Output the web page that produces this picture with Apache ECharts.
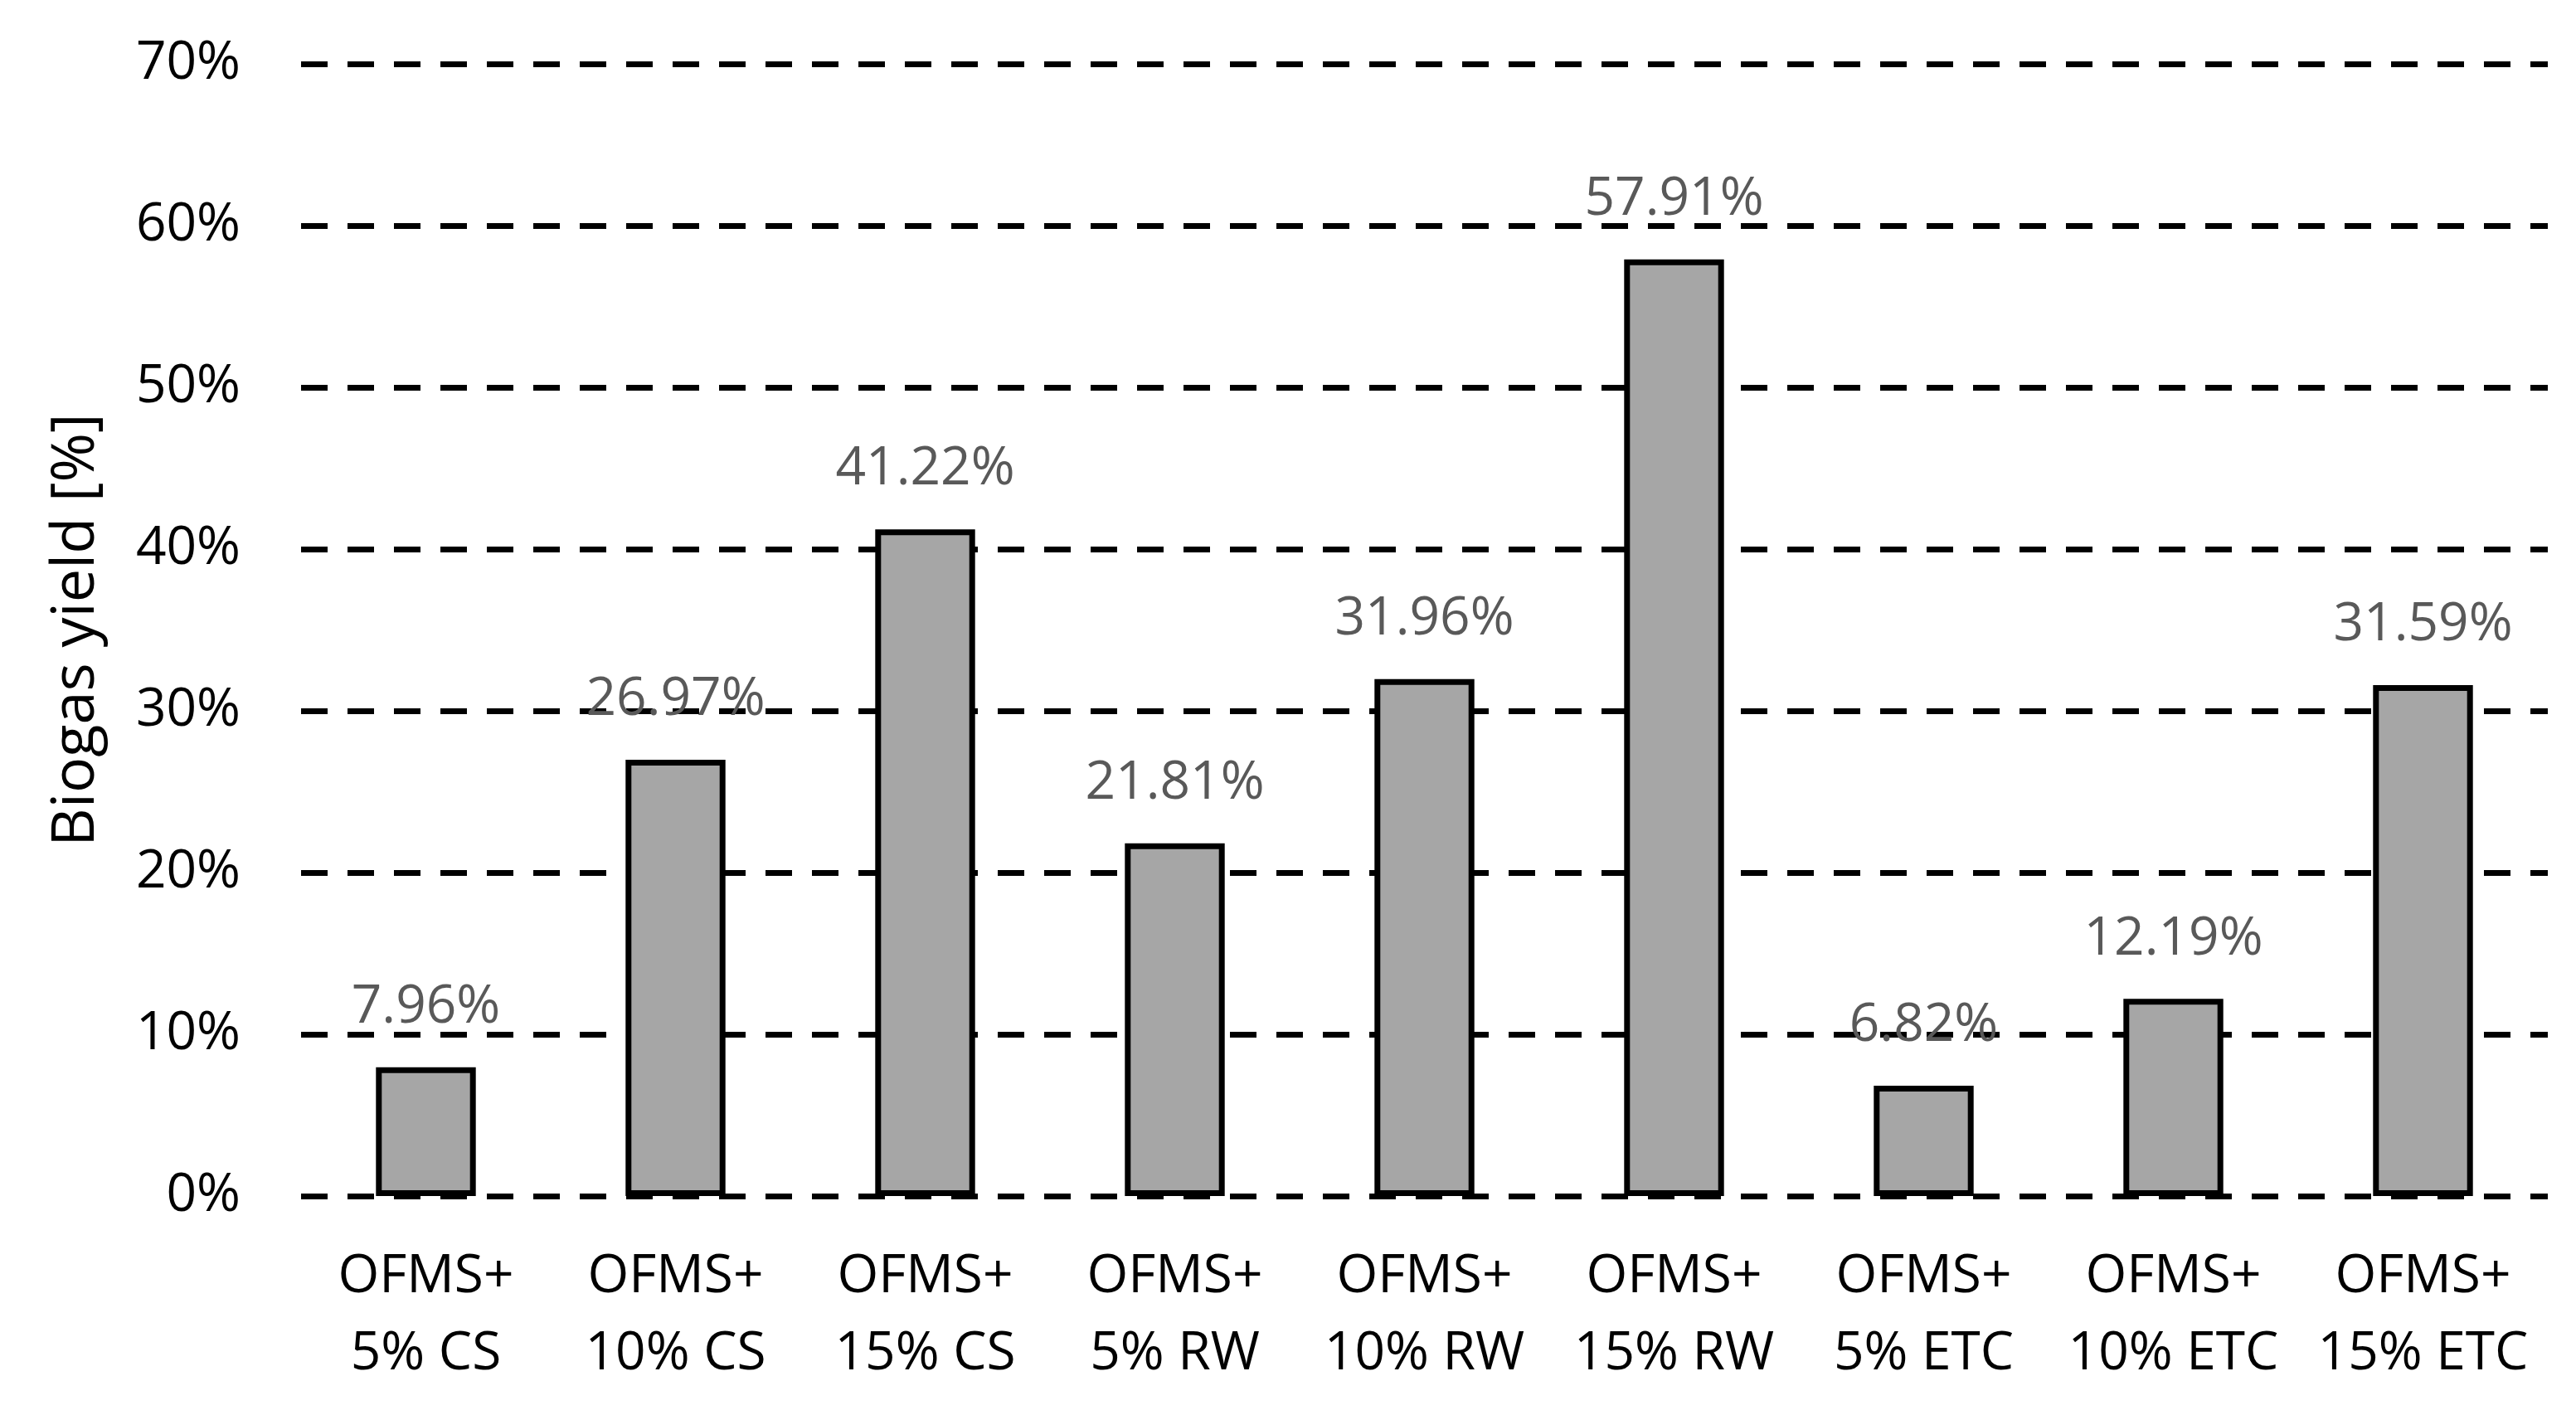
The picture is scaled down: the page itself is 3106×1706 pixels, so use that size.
<!DOCTYPE html>
<html>
<head>
<meta charset="utf-8">
<title>Biogas yield</title>
<script src="https://cdn.jsdelivr.net/npm/echarts@6/dist/echarts.min.js"></script>
<style>
  html, body { margin: 0; padding: 0; background: #fff; }
  #chart { width: 3106px; height: 1706px; }
</style>
</head>
<body>
<div id="chart"></div>
<script>
// categories (two-line labels) and biogas yield in %
const categories = [
    'OFMS+\n5% CS', 'OFMS+\n10% CS', 'OFMS+\n15% CS',
    'OFMS+\n5% RW', 'OFMS+\n10% RW', 'OFMS+\n15% RW',
    'OFMS+\n5% ETC', 'OFMS+\n10% ETC', 'OFMS+\n15% ETC'
];
const biogasYield = [7.96, 26.97, 41.22, 21.81, 31.96, 57.91, 6.82, 12.19, 31.59];
const yTicks = [0, 10, 20, 30, 40, 50, 60, 70];

const chart = echarts.init(document.getElementById('chart'));

const option = {
    animation: false,
    backgroundColor: '#fff',
    textStyle: { fontFamily: 'Open Sans' },
    grid: {
        left: 363,
        right: 34,
        top: 77,
        bottom: 264
    },
    xAxis: {
        type: 'category',
        data: categories,
        axisLine: { show: false },
        axisTick: { show: false },
        axisLabel: {
            interval: 0,
            margin: 51,
            fontSize: 64,
            lineHeight: 93,
            color: '#000'
        }
    },
    yAxis: {
        type: 'value',
        min: yTicks[0],
        max: yTicks[yTicks.length - 1],
        interval: 10,
        name: 'Biogas yield [%]',
        nameLocation: 'middle',
        nameGap: 235,
        nameTextStyle: {
            fontSize: 72,
            color: '#000'
        },
        axisLine: { show: false },
        axisTick: { show: false },
        axisLabel: {
            formatter: '{value}%',
            fontSize: 64,
            margin: 73,
            color: '#000'
        },
        splitLine: {
            show: true,
            lineStyle: {
                color: '#000',
                width: 7,
                type: [32, 24]
            }
        }
    },
    series: [
        {
            name: 'Biogas yield',
            type: 'bar',
            data: biogasYield,
            barWidth: '40%',
            itemStyle: {
                color: '#a6a6a6',
                borderColor: '#000',
                borderWidth: 7
            },
            label: {
                show: true,
                position: 'top',
                distance: 40,
                fontSize: 64,
                lineHeight: 64,
                color: '#595959',
                formatter: function (p) {
                    return p.value.toFixed(2) + '%';
                }
            }
        }
    ]
};

chart.setOption(option);
</script>
</body>
</html>
